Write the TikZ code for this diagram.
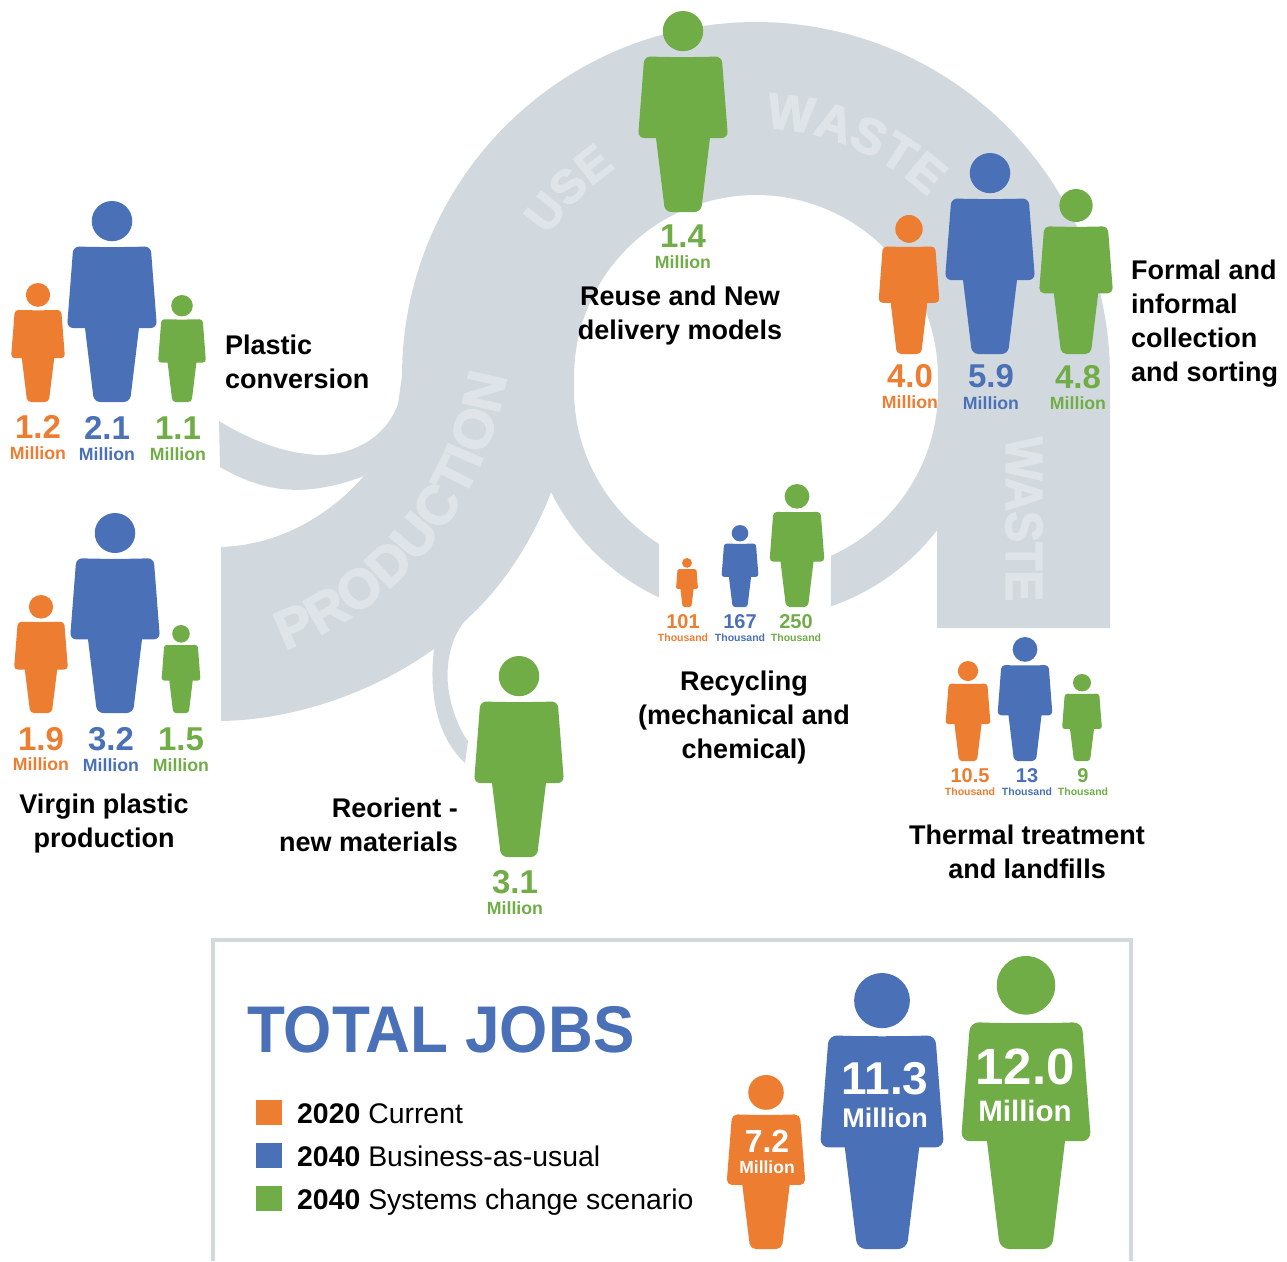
\documentclass[tikz,border=0pt]{standalone}
\usepackage{fontspec}
\usepackage{graphicx}
\usetikzlibrary{decorations.text}
\setmainfont{Liberation Sans}
\newfontfamily\ribfont[BoldFeatures={FakeBold=2.5}]{Liberation Sans}
\definecolor{po}{HTML}{ED7D31}
\definecolor{pb}{HTML}{4A71B7}
\definecolor{pg}{HTML}{70AD47}
\definecolor{rib}{HTML}{D1D9DF}
\definecolor{ribtext}{HTML}{DEE4E8}
\newcommand{\person}[5]{%
  \begin{scope}[shift={(#1,#2)},x=#3pt,y=-#4pt]
    \pgfmathsetlengthmacro{\rr}{0.07*#3pt}
    \pgfmathsetlengthmacro{\hx}{0.225*#3pt}
    \pgfmathsetlengthmacro{\hy}{0.1*#4pt}
    \fill[#5] (0,.1) ellipse [x radius=\hx, y radius=\hy];
    \fill[#5,rounded corners=\rr] (-.43,.225) .. controls (-.2,.23) and (.2,.23) .. (.43,.225)
      -- (.5,.632) [sharp corners] -- (.3,.632) [rounded corners=\rr] -- (.2,1) -- (-.2,1) [sharp corners] -- (-.3,.632) [rounded corners=\rr] -- (-.5,.632) -- cycle;
  \end{scope}}
\newcommand{\sized}[2]{\fontsize{#1}{#1}\selectfont #2}
\tikzset{
  val/.style={inner sep=0pt,font=\bfseries,anchor=center},
  lab/.style={inner sep=0pt,font=\bfseries\fontsize{27}{34}\selectfont,text=black},
  leg/.style={inner sep=0pt,font=\fontsize{28.4}{28.4}\selectfont,text=black,anchor=base west},
  ribarc/.style n args={2}{decorate,decoration={text along path,text align=center,
     text={|\ribfont\fontsize{#1}{#1}\selectfont\bfseries\color{ribtext}|#2}}}
}
% value + unit label pair: name, x, y of value, y of unit, colour, value, unit, sizes
\newcommand{\vlab}[9]{%
  \node[val,text=#5] (#1v) at (#2,#3) {\sized{#8}{#6}};
  \node[val,text=#5] (#1u) at (#2,#4) {\sized{#9}{#7}};}
\begin{document}
\begin{tikzpicture}[x=1pt,y=-1pt]
\useasboundingbox (0,0) rectangle (1287,1261);
\fill[white] (0,0) rectangle (1287,1261);
% ribbon
\fill[rib] (219,421) .. controls (250,440) and (285,454) .. (320,455)
  .. controls (350,455) and (385,440) .. (398,404) -- (402,376)
  -- plot[domain=180:360,samples=120] ({756+354*cos(\x)},{376+354*sin(\x)})
  -- (1110,628) -- (937,628) -- (937,530)
  -- plot[domain=37.7:70.9,samples=30] ({756+229*cos(\x)},{390+229*sin(\x)})
  -- (831,556)
  -- plot[domain=65.7:0,samples=40] ({756+182*cos(\x)},{390+182*sin(\x)})
  -- plot[domain=360:180,samples=100] ({756+182*cos(\x)},{377+182*sin(\x)})
  -- plot[domain=180:122.2,samples=40] ({756+182*cos(\x)},{390+182*sin(\x)})
  -- (659,598)
  -- plot[domain=115:153.5,samples=30] ({756+229*cos(\x)},{390+229*sin(\x)})
  .. controls (535,535) and (505,585) .. (468,618)
  .. controls (450,635) and (446,665) .. (448,685)
  .. controls (450,705) and (458,728) .. (468,741)
  -- (465,763)
  .. controls (440,740) and (428,700) .. (434,649)
  .. controls (370,695) and (290,720) .. (221,721)
  -- (221,547)
  .. controls (280,545) and (330,515) .. (364,476)
  .. controls (300,500) and (260,490) .. (220,467)
  -- cycle;
% ribbon words
\path[ribarc={47}{USE}] plot[domain=195:255,samples=60] ({756+251*cos(\x)},{376+251*sin(\x)});
\path[ribarc={50}{WASTE}] plot[domain=243:343,samples=90] ({756+248*cos(\x)},{376+248*sin(\x)});
\path[ribarc={55}{PRODUCTION}] (245,662) .. controls (375,632) and (497,520) .. (512,335);
\node[inner sep=0pt,rotate=-90,text=ribtext] (wastev) at (1024,519) {\scalebox{.89}[1]{\ribfont\bfseries\sized{52}{WASTE}}};
% people
\person{38}{283}{54}{119}{po}
\person{112}{201}{90}{201}{pb}
\person{182}{295}{48}{107}{pg}
\person{41}{595}{54}{118}{po}
\person{115}{513}{90}{200}{pb}
\person{181}{625}{39}{88}{pg}
\person{683}{11}{90}{201}{pg}
\person{909}{215}{61}{139}{po}
\person{990}{153}{90}{201}{pb}
\person{1076}{189}{74}{165}{pg}
\person{687}{558}{22}{49}{po}
\person{740}{525}{37}{82}{pb}
\person{797}{484}{55}{123}{pg}
\person{968}{661}{45}{100}{po}
\person{1025}{637}{55}{124}{pb}
\person{1082}{674}{40}{87}{pg}
\person{519}{656}{90}{201}{pg}
\person{766}{1075}{79}{174}{po}
\person{882}{973}{124}{276}{pb}
\person{1026}{956}{130}{293}{pg}
% values
\vlab{a}{38}{427}{453}{po}{1.2}{Million}{33}{17.7}
\vlab{b}{107}{428}{454}{pb}{2.1}{Million}{33}{17.7}
\vlab{c}{178}{428}{454}{pg}{1.1}{Million}{33}{17.7}
\vlab{d}{41}{739}{764}{po}{1.9}{Million}{33}{17.7}
\vlab{e}{111}{739}{765}{pb}{3.2}{Million}{33}{17.7}
\vlab{f}{181}{739}{765}{pg}{1.5}{Million}{33}{17.7}
\vlab{g}{683}{236}{262}{pg}{1.4}{Million}{33}{17.7}
\vlab{h}{910}{376}{402}{po}{4.0}{Million}{33}{17.7}
\vlab{i}{991}{376}{403}{pb}{5.9}{Million}{33}{17.7}
\vlab{j}{1078}{377}{403}{pg}{4.8}{Million}{33}{17.7}
\vlab{k}{515}{882}{908}{pg}{3.1}{Million}{33}{17.7}
\vlab{l}{683}{622}{638}{po}{101}{Thousand}{20}{10.5}
\vlab{m}{740}{622}{638}{pb}{167}{Thousand}{20}{10.5}
\vlab{n}{796}{622}{638}{pg}{250}{Thousand}{20}{10.5}
\vlab{o}{970}{776}{792}{po}{10.5}{Thousand}{20}{10.5}
\vlab{p}{1027}{776}{792}{pb}{13}{Thousand}{20}{10.5}
\vlab{q}{1083}{776}{792}{pg}{9}{Thousand}{20}{10.5}
\vlab{r}{767}{1141}{1167}{white}{7.2}{Million}{32}{17.5}
\vlab{s}{885}{1079}{1118}{white}{11.3}{Million}{46}{27}
\vlab{t}{1025}{1067}{1111}{white}{12.0}{Million}{51}{29.5}
% labels
\node[lab,align=left,anchor=west] (plastic) at (225,362) {Plastic\\conversion};
\node[lab,align=center] (virgin) at (104,824) {Virgin plastic\\production};
\node[lab,align=right,anchor=east] (reorient) at (458,825) {Reorient -\\new materials};
\node[lab,align=center] (reuse) at (680,316) {Reuse and New\\delivery models};
\node[lab,align=left,anchor=west] (formal) at (1131,324) {Formal and\\informal\\collection\\and sorting};
\node[lab,align=center] (recycling) at (744,718) {Recycling\\(mechanical and\\chemical)};
\node[lab,align=center] (thermal) at (1027,852) {Thermal treatment\\and landfills};
% total box
\draw[rib,line width=4pt] (213,1261) -- (213,940) -- (1131,940) -- (1131,1261);
\node[inner sep=0pt,anchor=west,text=pb,font=\bfseries] (total) at (247,1030) {\scalebox{.94}[1]{\sized{66}{TOTAL JOBS}}};
\fill[po] (256,1100) rectangle (282,1125);
\fill[pb] (256,1143) rectangle (282,1168);
\fill[pg] (256,1186) rectangle (282,1211);
\node[leg] (l1) at (297,1123) {\textbf{2020} Current};
\node[leg] (l2) at (297,1166) {\textbf{2040} Business-as-usual};
\node[leg] (l3) at (297,1209) {\textbf{2040} Systems change scenario};
\end{tikzpicture}
\end{document}
